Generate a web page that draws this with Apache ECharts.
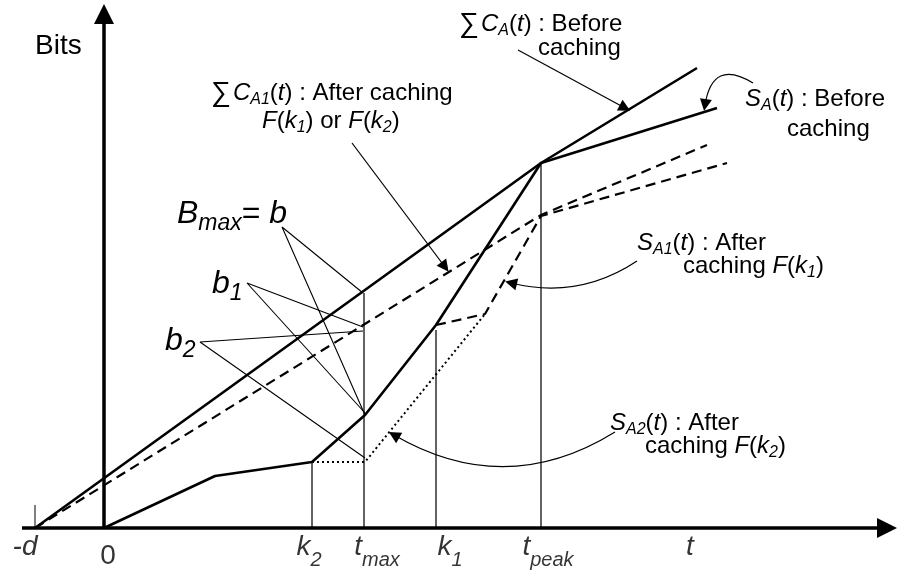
<!DOCTYPE html>
<html>
<head>
<meta charset="utf-8">
<script src="https://cdn.jsdelivr.net/npm/echarts@6/dist/echarts.min.js"></script>
<style>html,body{margin:0;padding:0;background:#fff}#c{width:898px;height:580px}</style>
</head>
<body>
<div id="c"></div>
<script>
// ---- data (time units along t, bits along vertical; origin at t=0, bits=0) ----
const tickNames  = ['-d', '0', 'k_2', 't_max', 'k_1', 't_peak', 't'];
const tickValues = [-69, 0, 208, 260, 332, 437, 584];

const cumBefore  = [[-69, 0], [437, 365], [593, 460]];                      // ΣC_A(t)
const sendBefore = [[0, 0], [111, 52], [208, 66], [261, 113], [332, 203], [437, 365], [613, 420]]; // S_A(t)
const cumAfter   = [[-69, 0], [437, 313], [603, 383]];                      // ΣC_A1(t)
const sendAfter1 = [[332, 203], [381, 214], [437, 312], [623, 365]];        // S_A1(t)
const sendAfter2 = [[208, 66], [261, 66], [381, 214]];                      // S_A2(t)

const guideTops  = [[208, 66], [260, 235], [332, 198], [437, 365]];         // k2, tmax, k1, tpeak
const dTick      = [[-69, 0], [-69, 23]];

const bmaxLines  = [[259, 235], [178, 301], [261, 113]];
const b1Lines    = [[259, 201], [143, 245], [261, 115]];
const b2Lines    = [[259, 197], [96, 186], [261, 70]];

const arrowCumBefore  = [[414, 478], [521, 420]];
const arrowSendBefore = [[649, 445], [601, 423]];
const arrowCumAfter   = [[248, 385], [341, 261]];
const arrowSendAfter1 = [[533, 267], [407, 245]];
const arrowSendAfter2 = [[511, 96], [290, 93]];

// ---- layout / style ----
const FF = '"Liberation Sans", Arial, "DejaVu Sans", sans-serif';
const tickDx = [-10, 4, -3, 13, 14, 7, 2];
const tickDy = [19, 28, 19, 19, 19, 19, 19];

function richSet(main, sub, pad) {
  return {
    n: {fontSize: main, fontFamily: FF, color: '#000', fill: '#000'},
    i: {fontSize: main, fontFamily: FF, fontStyle: 'italic', color: '#000', fill: '#000'},
    s: {fontSize: sub, fontFamily: FF, fontStyle: 'italic', color: '#000', fill: '#000', padding: [pad, 0, 0, 0]},
    g: {fontSize: main + 4, fontFamily: FF, color: '#000', fill: '#000', padding: [0, 2, 0, 0]}
  };
}
function toRich(name) {
  if (name.indexOf('_') >= 0) {
    const p = name.split('_');
    return '{i|' + p[0] + '}{s|' + p[1] + '}';
  }
  if (/^[0-9]+$/.test(name)) return '{n|' + name + '}';
  return '{i|' + name + '}';
}

const annoRich = richSet(24, 16, 13);
const bigRich = richSet(32, 23, 20);
const axisRich = richSet(28, 20, 26);

const texts = [
  {x: 459, y: 24,  t: '{g|∑}{i|C}{s|A}({i|t}) : Before', r: annoRich, f: 24},
  {x: 538, y: 48,  t: 'caching', r: annoRich, f: 24},
  {x: 745, y: 99,  t: '{i|S}{s|A}({i|t}) : Before', r: annoRich, f: 24},
  {x: 787, y: 129, t: 'caching', r: annoRich, f: 24},
  {x: 211, y: 93,  t: '{g|∑}{i|C}{s|A1}({i|t}) : After caching', r: annoRich, f: 24},
  {x: 262, y: 121, t: '{i|F}({i|k}{s|1}) or {i|F}({i|k}{s|2})', r: annoRich, f: 24},
  {x: 637, y: 243, t: '{i|S}{s|A1}({i|t}) : After', r: annoRich, f: 24},
  {x: 683, y: 266, t: 'caching {i|F}({i|k}{s|1})', r: annoRich, f: 24},
  {x: 610, y: 423, t: '{i|S}{s|A2}({i|t}) : After', r: annoRich, f: 24},
  {x: 645, y: 446, t: 'caching {i|F}({i|k}{s|2})', r: annoRich, f: 24},
  {x: 35,  y: 46,  t: 'Bits', r: annoRich, f: 28},
  {x: 177, y: 214, t: '{i|B}{s|max}{n|= }{i|b}', r: bigRich, f: 32},
  {x: 212, y: 284, t: '{i|b}{s|1}', r: bigRich, f: 32},
  {x: 165, y: 341, t: '{i|b}{s|2}', r: bigRich, f: 32}
];

const chart = echarts.init(document.getElementById('c'), null, {renderer: 'canvas'});

function lineSeries(data, width, type, color) {
  return {
    type: 'line', data: data, showSymbol: false, symbol: 'none', silent: true,
    lineStyle: {width: width, type: type || 'solid', color: color || '#000'},
    z: 3, animation: false
  };
}

const option = {
  animation: false,
  backgroundColor: '#fff',
  grid: {left: 0, right: 0, top: 0, bottom: 0, containLabel: false},
  xAxis: {type: 'value', min: -104, max: 794, show: false},
  yAxis: {type: 'value', min: -52, max: 528, show: false},
  series: [
    // axes with arrowheads
    {
      type: 'lines', coordinateSystem: 'cartesian2d', silent: true, z: 4,
      symbol: ['none', 'triangle'], symbolSize: 20,
      lineStyle: {width: 3.5, color: '#000', opacity: 1},
      data: [{coords: [[-82, 0], [783, 0]]}, {coords: [[0, 0], [0, 514]]}]
    },
    lineSeries(dTick, 1),
    // vertical guides
    {
      type: 'lines', coordinateSystem: 'cartesian2d', silent: true, z: 2,
      lineStyle: {width: 1.6, color: '#3c3c3c', opacity: 1},
      data: guideTops.map(p => ({coords: [[p[0], 0], [p[0], p[1]]]}))
    },
    lineSeries(cumBefore, 2.6),
    lineSeries(sendBefore, 2.6),
    lineSeries(cumAfter, 2.2, [10, 6]),
    lineSeries(sendAfter1, 2.2, [10, 6]),
    lineSeries(sendAfter2, 2, [2, 3]),
    lineSeries(bmaxLines, 1.1),
    lineSeries(b1Lines, 1.1),
    lineSeries(b2Lines, 1.1),
    // annotation arrows
    {
      type: 'lines', coordinateSystem: 'cartesian2d', silent: true, z: 5,
      symbol: ['none', 'triangle'], symbolSize: 12,
      lineStyle: {width: 1.2, color: '#000', opacity: 1},
      data: [
        {coords: arrowCumBefore},
        {coords: arrowSendBefore, lineStyle: {curveness: -0.75}},
        {coords: arrowCumAfter},
        {coords: arrowSendAfter1, lineStyle: {curveness: 0.22}},
        {coords: arrowSendAfter2, lineStyle: {curveness: 0.3}}
      ]
    },
    // tick labels
    {
      type: 'scatter', symbolSize: 0, silent: true, z: 6,
      data: tickValues.map((v, i) => ({
        value: [v, 0],
        label: {offset: [tickDx[i], tickDy[i]]}
      })),
      label: {
        show: true, position: 'inside', align: 'center', verticalAlign: 'middle',
        formatter: p => toRich(tickNames[p.dataIndex]),
        rich: axisRich
      }
    }
  ],
  graphic: texts.map(t => ({
    type: 'text', x: t.x, y: t.y, silent: true, z: 10,
    style: {
      text: t.t, rich: t.r, fill: '#000',
      font: t.f + 'px ' + FF,
      align: 'left', verticalAlign: 'middle'
    }
  }))
};
chart.setOption(option);
</script>
</body>
</html>
